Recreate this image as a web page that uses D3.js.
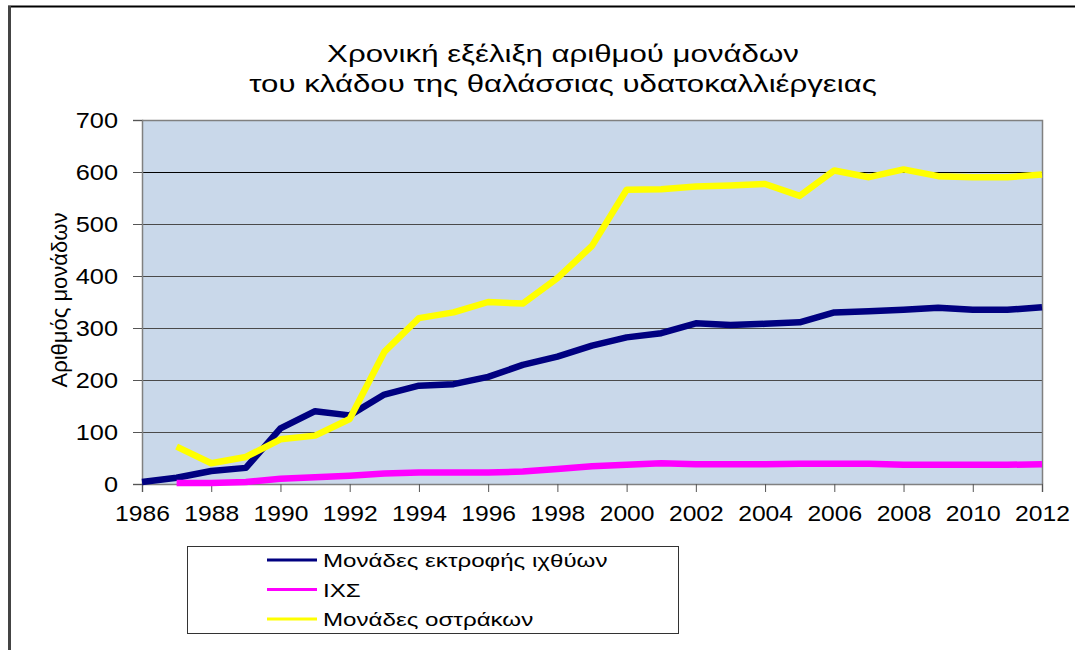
<!DOCTYPE html>
<html>
<head>
<meta charset="utf-8">
<script src="https://cdn.jsdelivr.net/npm/d3@7"></script>
<style>
  body { margin: 0; background: #fff; }
  svg { font-family: "Liberation Sans", Arial, sans-serif; }
</style>
</head>
<body>
<div id="chart"></div>
<script>
var years = d3.range(1986, 2013)
// values, null = no point
var fishUnits = [4, 12, 25, 31, 107, 140, 132, 172, 189, 192, 206, 229, 245, 266, 282, 290, 309, 306, 308, 311, 330, 332, 335, 339, 335, 335, 340]
var ixs = [null, 2, 2, 4, 10, 13, 16, 20, 22, 22, 22, 24, 29, 34, 37, 40, 38, 38, 38, 39, 39, 39, 37, 37, 37, 37, 38]
var shellUnits = [null, 72, 40, 52, 86, 93, 125, 254, 319, 330, 350, 347, 396, 458, 566, 567, 572, 574, 577, 554, 603, 590, 605, 592, 590, 590, 595]
var seriesNames = ["Μονάδες εκτροφής ιχθύων", "ΙΧΣ", "Μονάδες οστράκων"]
var seriesColors = ["#000080", "#ff00ff", "#ffff00"]
var yTicks = [0, 100, 200, 300, 400, 500, 600, 700]
var xTicks = d3.range(1986, 2013, 2)
var titleLines = ["Χρονική εξέλιξη αριθμού μονάδων", "του κλάδου της θαλάσσιας υδατοκαλλιέργειας"]
var yTitle = "Αριθμός μονάδων"

var svgw = 1075, svgh = 650
var plot = {left: 142, right: 1042, top: 120, bottom: 484}

var svg = d3.select('#chart').append('svg')
    .attr('width', svgw)
    .attr('height', svgh)

// the original picture is a bit wide, so text gets stretched sideways
function stretch(sel, k){
  sel.each(function(){
    var len = this.getComputedTextLength()
    d3.select(this).attr('textLength', len * k).attr('lengthAdjust', 'spacingAndGlyphs')
  })
}

// outer frame (only top and left edges visible)
svg.append('line').attr('x1', 8).attr('x2', svgw).attr('y1', 6.5).attr('y2', 6.5)
    .attr('stroke', '#000').attr('stroke-width', 2)
svg.append('line').attr('x1', 9.5).attr('x2', 9.5).attr('y1', 6).attr('y2', svgh)
    .attr('stroke', '#444').attr('stroke-width', 3)

var x = d3.scaleLinear().domain([1986, 2012]).range([plot.left, plot.right])
var y = d3.scaleLinear().domain([0, 700]).range([plot.bottom, plot.top])

// title
svg.append('g').selectAll('text')
    .data(titleLines)
    .enter()
    .append('text')
    .attr('x', 563)
    .attr('y', function(d, i){ return 62 + i * 30 })
    .attr('text-anchor', 'middle')
    .attr('font-size', 24)
    .attr('fill', '#000')
    .text(function(d){ return d })
    .call(stretch, 1.3)

// plot background
svg.append('rect')
    .attr('x', plot.left).attr('y', plot.top)
    .attr('width', plot.right - plot.left).attr('height', plot.bottom - plot.top)
    .attr('fill', '#c9d8ea')

// gridlines
svg.append('g').selectAll('line')
    .data(yTicks.filter(function(d){ return d > 0 && d < 700 }))
    .enter()
    .append('line')
    .attr('x1', plot.left).attr('x2', plot.right)
    .attr('y1', function(d){ return Math.round(y(d)) + 0.5 })
    .attr('y2', function(d){ return Math.round(y(d)) + 0.5 })
    .attr('stroke', function(d){ return d == 600 ? '#000' : '#4a4a4a' })
    .attr('stroke-width', 1)

// plot border top/right
svg.append('path')
    .attr('d', 'M' + plot.left + ',' + (plot.top + 0.5) + 'H' + (plot.right + 0.5) + 'V' + plot.bottom)
    .attr('fill', 'none').attr('stroke', '#808080').attr('stroke-width', 1.5)

// axes
var yAxis = svg.append('g')
    .attr('transform', 'translate(' + plot.left + ',0)')
    .call(d3.axisLeft(y).tickValues(yTicks).tickSize(9).tickPadding(15).tickFormat(d3.format('d')))
var xAxis = svg.append('g')
    .attr('transform', 'translate(0,' + plot.bottom + ')')
    .call(d3.axisBottom(x).tickValues(xTicks).tickSize(8).tickPadding(13).tickFormat(d3.format('d')))

svg.selectAll('.domain').attr('stroke', '#808080').attr('stroke-width', 1.5)
svg.selectAll('.tick line').attr('stroke', '#555')
svg.selectAll('.tick text')
    .attr('font-family', '"Liberation Sans", Arial, sans-serif')
    .attr('font-size', 22)
    .attr('fill', '#000')
xAxis.selectAll('.tick text').call(stretch, 1.12)
yAxis.selectAll('.tick text').call(stretch, 1.15)

// y axis title
svg.append('text')
    .attr('transform', 'translate(67,' + ((plot.top + plot.bottom) / 2 - 2) + ') rotate(-90)')
    .attr('text-anchor', 'middle')
    .attr('font-size', 22)
    .attr('fill', '#000')
    .text(yTitle)

// lines
var seriesData = [fishUnits, ixs, shellUnits]
var line = d3.line()
    .defined(function(d){ return d.v != null })
    .x(function(d){ return x(d.year) })
    .y(function(d){ return y(d.v) })

svg.append('g').selectAll('path')
    .data(seriesData)
    .enter()
    .append('path')
    .attr('d', function(vals){
      return line(vals.map(function(v, i){ return {year: years[i], v: v} }))
    })
    .attr('fill', 'none')
    .attr('stroke', function(d, i){ return seriesColors[i] })
    .attr('stroke-width', 6.5)
    .attr('stroke-linejoin', 'round')

// legend
svg.append('rect')
    .attr('x', 187.5).attr('y', 546.5)
    .attr('width', 491).attr('height', 87)
    .attr('fill', '#fff').attr('stroke', '#333').attr('stroke-width', 1)
var legend = svg.append('g')
var items = legend.selectAll('g')
    .data(seriesNames)
    .enter()
    .append('g')
    .attr('transform', function(d, i){ return 'translate(0,' + (560 + i * 29.5) + ')' })
items.append('line')
    .attr('x1', 267).attr('x2', 317)
    .attr('stroke', function(d, i){ return seriesColors[i] })
    .attr('stroke-width', 3)
items.append('text')
    .attr('x', 323).attr('y', 7)
    .attr('font-size', 19)
    .attr('fill', '#000')
    .text(function(d){ return d })
    .call(stretch, 1.27)
</script>
</body>
</html>
